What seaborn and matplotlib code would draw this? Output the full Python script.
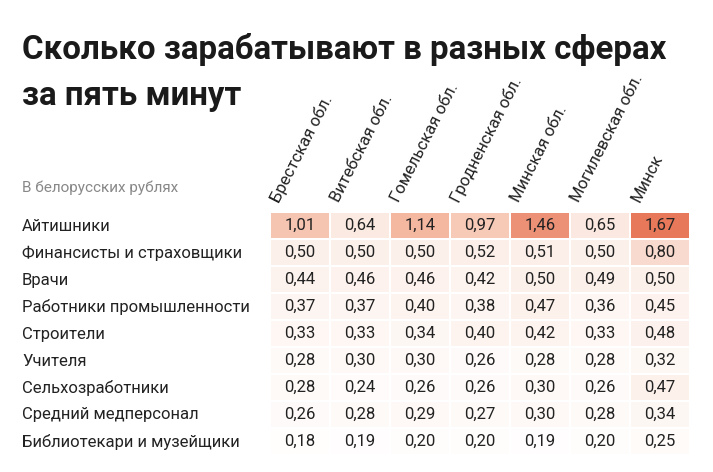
import matplotlib
matplotlib.use("Agg")
import matplotlib.pyplot as plt
import seaborn as sns
import pandas as pd
from matplotlib.colors import LinearSegmentedColormap
import matplotlib.transforms as mtrans

regions = ["Брестская обл.", "Витебская обл.", "Гомельская обл.", "Гродненская обл.",
           "Минская обл.", "Могилевская обл.", "Минск"]
jobs = ["Айтишники", "Финансисты и страховщики", "Врачи", "Работники промышленности",
        "Строители", "Учителя", "Сельхозработники", "Средний медперсонал",
        "Библиотекари и музейщики"]
it = [1.01, 0.64, 1.14, 0.97, 1.46, 0.65, 1.67]
fin = [0.50, 0.50, 0.50, 0.52, 0.51, 0.50, 0.80]
doc = [0.44, 0.46, 0.46, 0.42, 0.50, 0.49, 0.50]
ind = [0.37, 0.37, 0.40, 0.38, 0.47, 0.36, 0.45]
bld = [0.33, 0.33, 0.34, 0.40, 0.42, 0.33, 0.48]
tch = [0.28, 0.30, 0.30, 0.26, 0.28, 0.28, 0.32]
agr = [0.28, 0.24, 0.26, 0.26, 0.30, 0.26, 0.47]
nur = [0.26, 0.28, 0.29, 0.27, 0.30, 0.28, 0.34]
lib = [0.18, 0.19, 0.20, 0.20, 0.19, 0.20, 0.25]

df = pd.DataFrame([it, fin, doc, ind, bld, tch, agr, nur, lib], index=jobs, columns=regions)
labels = df.map(lambda v: f"{v:.2f}".replace(".", ","))

plt.rcParams["font.family"] = "Roboto"
fig = plt.figure(figsize=(7.13, 4.72), dpi=100)
ax = fig.add_axes([270/713, 1-455/472, 420/713, (455-212)/472])
cmap = LinearSegmentedColormap.from_list("w", ["#ffffff", "#fbe9e1", "#f4b59d", "#e8785a"])
sns.heatmap(df, ax=ax, cmap=cmap, vmin=0.15, vmax=1.67, annot=labels, fmt="",
            cbar=False, linewidths=1.2, linecolor="white",
            annot_kws={"fontsize": 12, "color": "#222222"})
ax.set_xticks([]); ax.set_yticks([])
ax.set_xlabel(""); ax.set_ylabel("")
for s in ax.spines.values():
    s.set_visible(False)

tr = mtrans.blended_transform_factory(ax.transData, ax.transAxes)
for i, r in enumerate(regions):
    ax.text(i + 0.2, 1.03, r, transform=tr, rotation=63, ha="left", va="bottom",
            rotation_mode="anchor", fontsize=12, color="#222222")
for j, name in enumerate(jobs):
    fig.text(22/713, 1-(226 + j*27)/472, name, ha="left", va="center", fontsize=12, color="#222222")

fig.text(22/713, 1-50/472, "Сколько зарабатывают в разных сферах", fontsize=23.8,
         fontweight="bold", va="center", ha="left", color="#1a1a1a")
fig.text(22/713, 1-96/472, "за пять минут", fontsize=23.8,
         fontweight="bold", va="center", ha="left", color="#1a1a1a")
fig.text(22/713, 1-188/472, "В белорусских рублях", fontsize=11, color="#888888",
         va="center", ha="left")
fig.savefig("out.png", dpi=100, facecolor="white")
